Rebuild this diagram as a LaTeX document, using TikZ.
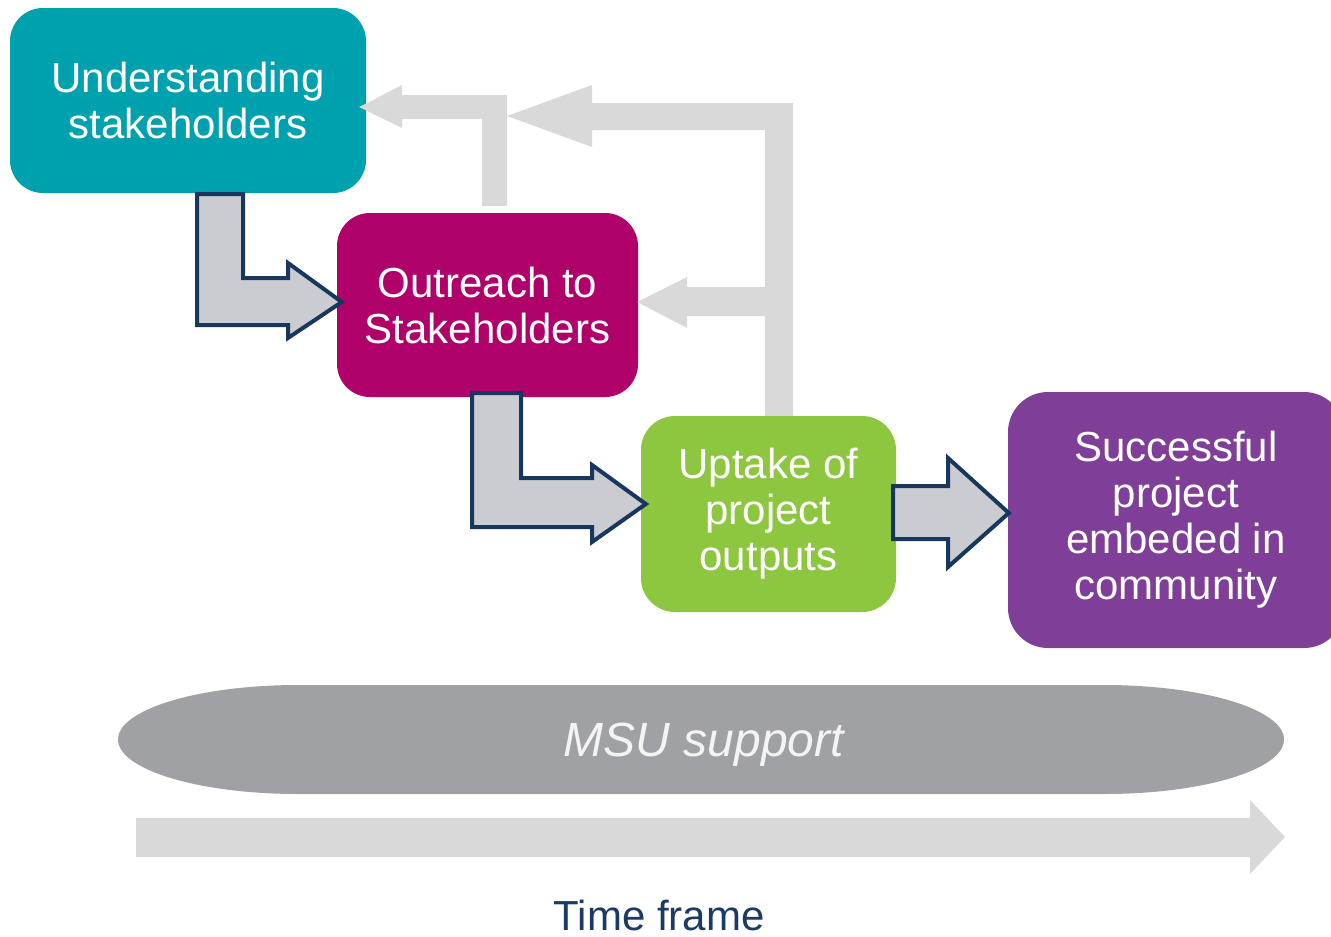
\documentclass[tikz,border=0pt]{standalone}
\usepackage{fontspec}
\setmainfont{Liberation Sans}
\usetikzlibrary{calc}

\definecolor{cTeal}{HTML}{00A1AF}
\definecolor{cMagenta}{HTML}{B0006A}
\definecolor{cGreen}{HTML}{8DC63F}
\definecolor{cPurple}{HTML}{7F3F98}
\definecolor{arrowFill}{HTML}{CBCCD1}
\definecolor{arrowLine}{HTML}{17375E}
\definecolor{fbGray}{HTML}{D9D9D9}
\definecolor{bandGray}{HTML}{A0A1A5}
\definecolor{bandText}{HTML}{F4F4F4}
\definecolor{navyText}{HTML}{1B3A66}

\begin{document}
\begin{tikzpicture}[x=1pt,y=-1pt,
  stage/.style={draw=none, text=white, align=center, inner sep=0pt,
                font=\fontsize{42}{46}\selectfont},
  blockarrow/.style={fill=arrowFill, draw=arrowLine, line width=4pt, line join=miter},
  feedback/.style={fill=fbGray}
]
\useasboundingbox (0,0) rectangle (1331,937);
\clip (0,0) rectangle (1331,937);

% stages
\node[stage, fill=cTeal, rounded corners=33pt, minimum width=356pt, minimum height=185pt]
  (A) at (188,100.5) {Understanding\\stakeholders};
\node[stage, fill=cMagenta, rounded corners=33pt, minimum width=301pt, minimum height=184pt]
  (B) at (487.5,305) {Outreach to\\Stakeholders};
\node[stage, fill=cGreen, rounded corners=34pt, minimum width=255pt, minimum height=196pt]
  (C) at (768.5,514) {Uptake of\\project\\outputs};
\node[stage, fill=cPurple, rounded corners=40pt, minimum width=336pt, minimum height=256pt]
  (D) at (1176,520) {Successful\\project\\embeded in\\community};

% feedback: outreach back to understanding
\fill[feedback] ($(B.north)+(-5.5,-7)$) -- (482,119) -- (402,119) -- (402,128)
  -- ($(A.east)+(-7,6.5)$) -- (402,85) -- (402,95) -- (507,95)
  -- ($(B.north)+(19.5,-7)$) -- cycle;

% feedback: uptake back to outreach and to understanding
\fill[feedback] ($(C.north)+(-3.5,0)$) -- (765,316) -- (687,316) -- (687,328)
  -- ($(B.east)+(-1,-3)$) -- (687,277) -- (687,287) -- (765,287) -- (765,130)
  -- (592,130) -- (592,147) -- (507,116) -- (592,85) -- (592,103) -- (793,103)
  -- ($(C.north)+(24.5,0)$) -- cycle;

% forward steps
\draw[blockarrow] ($(A.south)+(9,1)$) -- (243,194) -- (243,278) -- (288,278) -- (288,263)
  -- ($(B.west)+(5,-3)$) -- (288,338) -- (288,325) -- (197,325) -- cycle;
\draw[blockarrow] ($(B.south)+(-15.5,-4)$) -- (521,393) -- (521,478) -- (592,478) -- (592,465)
  -- ($(C.west)+(5,-10)$) -- (592,542) -- (592,527) -- (472,527) -- cycle;
\draw[blockarrow] ($(C.east)+(-3,-28)$) -- (948,486) -- (948,458)
  -- ($(D.west)+(1,-7)$) -- (948,567) -- (948,539) -- (893,539) -- cycle;

% support band
\fill[bandGray] (298,685) -- (1104,685)
  arc[start angle=-90, end angle=90, x radius=180, y radius=54.5]
  -- (298,794)
  arc[start angle=90, end angle=270, x radius=180, y radius=54.5] -- cycle;
\node[inner sep=0pt, text=bandText, font=\fontsize{48}{52}\selectfont\itshape]
  (msu) at (704,745) {MSU support};

% time axis
\fill[fbGray] (136,818) -- (1250,818) -- (1250,800) -- (1285,837) -- (1250,874)
  -- (1250,857) -- (136,857) -- cycle;
\node[inner sep=0pt, text=navyText, font=\fontsize{42}{46}\selectfont]
  (time) at (659,915) {Time frame};
\end{tikzpicture}
\end{document}
